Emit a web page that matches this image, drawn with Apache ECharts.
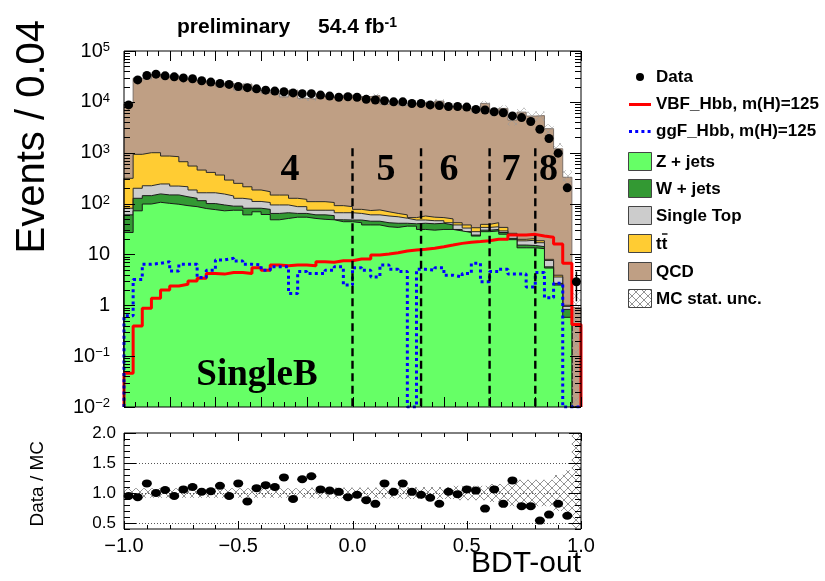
<!DOCTYPE html>
<html>
<head>
<meta charset="utf-8">
<title>BDT-out SingleB</title>
<script src="https://cdn.jsdelivr.net/npm/echarts@6/dist/echarts.min.js"></script>
<style>
  html, body { margin: 0; padding: 0; background: #ffffff; }
  #chart { width: 825px; height: 581px; }
</style>
</head>
<body>
<div id="chart"></div>
<script>
// ---- binning of the BDT output ----
const X_MIN = -1, X_MAX = 1, BIN_W = 0.04, N_BINS = 50;
const binEdges = Array.from({ length: N_BINS + 1 }, (_, i) => +(X_MIN + i * BIN_W).toFixed(2));
const binCenters = binEdges.slice(0, N_BINS).map(e => +(e + BIN_W / 2).toFixed(2));

// ---- observed events per bin ----
const dataCounts = [
  8700, 27000, 33000, 35000, 32500, 31000, 29600, 28500, 26000, 24500,
  23000, 22000, 20000, 19000, 18000, 17000, 16300, 15800, 15000, 14500,
  14500, 13600, 13000, 12300, 12600, 12300, 11200, 10900, 10500, 10000,
  10000, 9300, 9300, 8700, 8500, 8100, 8100, 7900, 7100, 6900,
  6400, 6100, 5300, 4900, 4100, 2900, 1900, 980, 204, 2.9
];

// ---- background predictions per bin ----
const zJets = [
  27, 72, 98, 106, 101, 97, 91, 87, 80, 76,
  72, 74, 74, 60, 69, 61, 48, 51, 54, 54,
  51, 49, 48, 44, 44, 42, 38, 38, 35, 34,
  36, 36, 31, 30, 31, 31, 29, 27, 23, 28,
  29, 25, 19.5, 13.5, 13.5, 13, 5.4, 2.5, 0.58, 0
];
const wJets = [
  33, 55, 45, 49, 47, 51, 45, 40, 34, 24,
  22, 15, 15, 21, 12, 16, 16, 15, 10, 10,
  9, 11, 10, 4, 3.5, 5.5, 7, 7, 7, 7,
  5, 4, 10, 10, 10, 7, 2, 1, 1, 2,
  2, 2, 1.2, 1.8, 1.5, 1.2, 0.3, 0.2, 0.25, 0
];
const singleTop = [
  21, 73, 81, 88, 95, 73, 78, 58, 49, 63,
  60, 52, 38, 40, 29, 28, 30, 28, 23, 23,
  14, 14, 16, 18, 18.5, 16.5, 15, 15, 15, 14,
  10.5, 7.5, 6.5, 6, 5, 4, 7, 5, 4, 4,
  4, 2, 3.3, 3.2, 4, 2.8, 1.9, 0.9, 0.12, 0
];
const ttbar = [
  233, 730, 776, 757, 617, 614, 451, 362, 293, 247,
  210, 149, 123, 93, 75, 66, 53, 53, 40, 34,
  35, 35, 31, 25, 21, 13, 13, 15, 12, 9,
  8.5, 5.5, 9.5, 8, 7, 8, 4, 5, 5.5, 5,
  7, 5, 2, 1.3, 1.5, 1.6, 0.4, 0.3, 0.05, 0
];
const qcd = [
  8840, 28100, 27450, 34000, 30090, 31800, 27260, 25360, 25030, 23380,
  20170, 22870, 16990, 21880, 16480, 14870, 14670, 12390, 16540, 11670,
  11220, 12720, 12400, 11970, 13460, 12600, 12650, 13220, 8980, 9740,
  8560, 9065, 9530, 9400, 10310, 7890, 8220, 7415, 6790, 9285,
  6000, 7405, 4355, 6260, 5235, 5350, 2960, 1191, 328, 0.9
];

// ---- signal templates, m(H)=125 ----
const vbfHbb = [
  0.046, 0.39, 0.87, 1.37, 2.0, 2.4, 2.6, 3.0, 3.4, 4.2,
  4.1, 4.4, 4.4, 4.2, 5.5, 4.9, 6.2, 6.0, 6.2, 6.2,
  6.0, 7.2, 7.0, 7.5, 7.5, 8.1, 8.1, 9.7, 10.2, 10.8,
  11.7, 12.2, 12.6, 13.2, 14.2, 15.3, 16.5, 17.3, 17.9, 18.6,
  19.8, 19.8, 24, 24, 24.8, 23, 21.7, 16, 6.7, 0.42
];
const ggfHbb = [
  0.62, 3.2, 6.4, 6.7, 7.2, 4.7, 6.4, 6.4, 3.5, 4.9,
  7.8, 8.4, 7.4, 6.4, 6.2, 4.9, 5.7, 5.7, 1.7, 4.6,
  4.2, 4.2, 4.9, 5.7, 2.5, 5.5, 4.9, 3.6, 6.2, 5.1,
  4.6, 0, 5.1, 4.9, 5.5, 3.9, 3.6, 4.2, 6.7, 2.9,
  4.6, 5.1, 4.1, 4.1, 2.3, 4.4, 1.4, 2.7, 0, 0
];

// ---- relative MC statistical uncertainty per bin ----
const mcStatUnc = [
  0.08, 0.08, 0.08, 0.08, 0.08, 0.08, 0.08, 0.08, 0.08, 0.08,
  0.08, 0.08, 0.08, 0.08, 0.08, 0.08, 0.08, 0.08, 0.08, 0.08,
  0.09, 0.09, 0.09, 0.09, 0.09, 0.09, 0.09, 0.09, 0.09, 0.09,
  0.10, 0.10, 0.10, 0.10, 0.10, 0.10, 0.12, 0.12, 0.12, 0.12,
  0.15, 0.15, 0.22, 0.22, 0.22, 0.22, 0.22, 0.30, 0.38, 1.0
];

// ---- category boundaries and their labels ----
const categoryEdges = [0.0, 0.3, 0.6, 0.8];
const categoryLabels = ['4', '5', '6', '7', '8'];

// ---- axis tick labels ----
const mainYLabels = [0.01, 0.1, 1, 10, 100, 1000, 10000, 100000];
const ratioYLabels = [0.5, 1.0, 1.5, 2.0];

// ---- ranges and layout ----
const Y_MIN = 0.01, Y_MAX = 1e5, R_MIN = 0.4, R_MAX = 2.0;
const CAT_LINE_TOP = 1230;                 // upper end of the category separators
const CAT_LABEL_X = [-0.274, 0.147, 0.422, 0.694, 0.858];
const CAT_LABEL_Y = 460;
const GRID_LEFT = 124, GRID_W = 457;

const C = {
  z: '#66ff66', w: '#339933', st: '#cccccc', tt: '#ffcc33', qcd: '#bf9f84',
  vbf: '#ff0000', ggf: '#0000ff'
};
const SANS = '"Liberation Sans", Arial, Helvetica, sans-serif';
const SERIF = '"Liberation Serif", "Times New Roman", serif';

// cross-hatch fills for the MC statistical uncertainty
function makeHatch(color, width) {
  const cv = document.createElement('canvas');
  cv.width = 8; cv.height = 8;
  const g = cv.getContext('2d');
  g.strokeStyle = color; g.lineWidth = width;
  g.beginPath();
  g.moveTo(0, 0); g.lineTo(8, 8);
  g.moveTo(8, 0); g.lineTo(0, 8);
  g.stroke();
  return { image: cv, repeat: 'repeat' };
}
const hatchFill = makeHatch('#777777', 0.8);
const hatchFillLight = makeHatch('#9a9a9a', 0.6);

// cumulative stack, bottom to top
const cumZ = zJets.map(v => v);
const cumW = cumZ.map((v, i) => v + wJets[i]);
const cumST = cumW.map((v, i) => v + singleTop[i]);
const cumTT = cumST.map((v, i) => v + ttbar[i]);
const mcTotal = cumTT.map((v, i) => v + qcd[i]);

// histogram outline as step points (left edges + closing edge)
function histPoints(vals) {
  const pts = [[X_MIN, Y_MIN]];
  vals.forEach((v, i) => pts.push([binEdges[i], Math.max(v, Y_MIN)]));
  pts.push([X_MAX, Math.max(vals[vals.length - 1], Y_MIN)]);
  pts.push([X_MAX, Y_MIN]);
  return pts;
}

function stackSeries(name, vals, fill, stroke, z) {
  return {
    name, type: 'line', xAxisIndex: 0, yAxisIndex: 0, step: 'end',
    data: histPoints(vals), symbol: 'none', showSymbol: false, z,
    lineStyle: { color: stroke, width: 1 },
    areaStyle: { color: fill, opacity: 1, origin: 'start' },
    silent: true
  };
}

function lineHist(name, vals, color, type, z) {
  return {
    name, type: 'line', xAxisIndex: 0, yAxisIndex: 0, step: 'end',
    data: histPoints(vals), symbol: 'none', showSymbol: false, z,
    lineStyle: { color, width: 3, type, cap: 'butt' }, silent: true
  };
}

// tick mark specs (inside the frame, on all four sides)
function logTicks() {
  const t = [];
  for (let d = -2; d <= 5; d++) {
    t.push({ axis: 'y', v: Math.pow(10, d), len: 11 });
    if (d < 5) for (let m = 2; m <= 9; m++) t.push({ axis: 'y', v: m * Math.pow(10, d), len: 6 });
  }
  for (let k = -20; k <= 20; k++) t.push({ axis: 'x', v: k * 0.05, len: k % 4 === 0 ? 10 : 5 });
  return t;
}
function ratioTicks() {
  const t = [];
  for (let k = 4; k <= 20; k++) t.push({ axis: 'y', v: k / 10, len: k % 5 === 0 ? 12 : 6 });
  for (let k = -10; k <= 10; k++) t.push({ axis: 'x', v: k / 10, len: k % 5 === 0 ? 8 : 4 });
  return t;
}
function tickSeries(idx, specs, yRef) {
  return {
    type: 'custom', xAxisIndex: idx, yAxisIndex: idx, z: 50, silent: true,
    data: specs.map(s => [s.axis === 'x' ? s.v : X_MIN, s.axis === 'y' ? s.v : yRef]),
    renderItem(params, api) {
      const s = specs[params.dataIndex];
      const cs = params.coordSys;
      const st = { stroke: '#000', lineWidth: 1 };
      if (s.axis === 'x') {
        const px = Math.round(api.coord([s.v, yRef])[0]) + 0.5;
        const yb = cs.y + cs.height, yt = cs.y;
        return { type: 'group', children: [
          { type: 'line', shape: { x1: px, y1: yb, x2: px, y2: yb - s.len }, style: st },
          { type: 'line', shape: { x1: px, y1: yt, x2: px, y2: yt + s.len }, style: st }
        ] };
      }
      const py = Math.round(api.coord([X_MIN, s.v])[1]) + 0.5;
      const xl = cs.x, xr = cs.x + cs.width;
      return { type: 'group', children: [
        { type: 'line', shape: { x1: xl, y1: py, x2: xl + s.len, y2: py }, style: st },
        { type: 'line', shape: { x1: xr, y1: py, x2: xr - s.len, y2: py }, style: st }
      ] };
    }
  };
}

function supText(v) {
  const e = Math.round(Math.log10(v));
  if (e === 0) return '1';
  if (e === 1) return '10';
  return '10{sup|' + (e < 0 ? '\u2212' + (-e) : e) + '}';
}
function signedFixed(v) {
  if (Math.abs(v) < 1e-9) return '0.0';
  return (v < 0 ? '\u2212' : '') + Math.abs(v).toFixed(1);
}

const chart = echarts.init(document.getElementById('chart'), null, { renderer: 'canvas', width: 825, height: 581 });

const LEG_FONT = 'bold 17px ' + SANS;

const option = {
  animation: false,
  backgroundColor: '#ffffff',
  grid: [
    { left: GRID_LEFT, top: 51, width: GRID_W, height: 356, show: true, borderColor: '#000', borderWidth: 1, backgroundColor: 'transparent', z: 60 },
    { left: GRID_LEFT, top: 433, width: GRID_W, height: 96, show: true, borderColor: '#000', borderWidth: 1, backgroundColor: 'transparent', z: 60 }
  ],
  xAxis: [
    { gridIndex: 0, type: 'value', min: X_MIN, max: X_MAX, interval: 0.5,
      axisLine: { show: false }, axisTick: { show: false }, axisLabel: { show: false }, splitLine: { show: false } },
    { gridIndex: 1, type: 'value', min: X_MIN, max: X_MAX, interval: 0.5,
      axisLine: { show: false }, axisTick: { show: false }, splitLine: { show: false },
      axisLabel: { show: true, margin: 7, color: '#000', fontFamily: SANS, fontSize: 20,
        showMinLabel: true, showMaxLabel: true, formatter: v => signedFixed(v) } }
  ],
  yAxis: [
    { gridIndex: 0, type: 'log', logBase: 10, min: Y_MIN, max: Y_MAX,
      axisLine: { show: false }, axisTick: { show: false }, splitLine: { show: false },
      axisLabel: { show: true, margin: 14, color: '#000', fontFamily: SANS, fontSize: 20,
        customValues: mainYLabels, formatter: v => supText(v),
        rich: { sup: { fontSize: 13, fontFamily: SANS, color: '#000', verticalAlign: 'top', lineHeight: 12, padding: [0, 0, 6, 0] } } } },
    { gridIndex: 1, type: 'value', min: R_MIN, max: R_MAX,
      axisLine: { show: false }, axisTick: { show: false }, splitLine: { show: false },
      axisLabel: { show: true, margin: 8, color: '#000', fontFamily: SANS, fontSize: 17,
        customValues: ratioYLabels, formatter: v => v.toFixed(1) } }
  ],
  series: [
    // stacked backgrounds, drawn from the total down so each fill sits on the one above
    stackSeries('QCD', mcTotal, C.qcd, '#7d7068', 2),
    stackSeries('tt', cumTT, C.tt, '#2a2a2a', 3),
    stackSeries('Single Top', cumST, C.st, '#2a2a2a', 4),
    stackSeries('W + jets', cumW, C.w, '#1a1a1a', 5),
    stackSeries('Z + jets', cumZ, C.z, '#1a1a1a', 6),
    // MC statistical uncertainty on the stack total
    {
      name: 'MC stat. unc.', type: 'custom', xAxisIndex: 0, yAxisIndex: 0, z: 7, silent: true,
      data: binCenters.map((c, i) => [c, Math.max(mcTotal[i], Y_MIN)]),
      renderItem(params, api) {
        const i = params.dataIndex;
        const tot = mcTotal[i];
        if (!(tot > 0)) return null;
        const u = mcStatUnc[i];
        const lo = Math.max(tot * (1 - u), Y_MIN), hi = Math.min(tot * (1 + u), Y_MAX);
        const p1 = api.coord([binEdges[i], hi]), p2 = api.coord([binEdges[i + 1], lo]);
        return { type: 'rect', shape: { x: p1[0], y: p1[1], width: p2[0] - p1[0], height: p2[1] - p1[1] },
          style: { fill: hatchFillLight, stroke: null } };
      }
    },
    lineHist('VBF_Hbb', vbfHbb, C.vbf, 'solid', 9),
    lineHist('ggF_Hbb', ggfHbb, C.ggf, [3, 3.2], 10),
    // category separators
    {
      type: 'custom', xAxisIndex: 0, yAxisIndex: 0, z: 11, silent: true,
      data: categoryEdges.map(x => [x, CAT_LINE_TOP]),
      renderItem(params, api) {
        const x = categoryEdges[params.dataIndex];
        const a = api.coord([x, CAT_LINE_TOP]), b = api.coord([x, Y_MIN]);
        return { type: 'line', shape: { x1: a[0], y1: a[1], x2: b[0], y2: b[1] },
          style: { stroke: '#000', lineWidth: 2.4, lineDash: [8, 4.5] } };
      }
    },
    // category numbers
    {
      type: 'custom', xAxisIndex: 0, yAxisIndex: 0, z: 12, silent: true,
      data: CAT_LABEL_X.map(x => [x, CAT_LABEL_Y]),
      renderItem(params, api) {
        const p = api.coord([CAT_LABEL_X[params.dataIndex], CAT_LABEL_Y]);
        return { type: 'text', x: p[0], y: p[1],
          style: { text: categoryLabels[params.dataIndex], fill: '#000', align: 'center', verticalAlign: 'middle',
            font: 'bold 38px ' + SERIF } };
      }
    },
    // data error bars (Poisson)
    {
      type: 'custom', xAxisIndex: 0, yAxisIndex: 0, z: 13, silent: true,
      data: binCenters.map((c, i) => [c, Math.max(dataCounts[i], Y_MIN)]),
      renderItem(params, api) {
        const i = params.dataIndex, n = dataCounts[i];
        if (!(n > 0)) return null;
        const e = Math.sqrt(n);
        const a = api.coord([binCenters[i], n + e]), b = api.coord([binCenters[i], Math.max(n - e, Y_MIN)]);
        return { type: 'line', shape: { x1: a[0], y1: a[1], x2: b[0], y2: b[1] }, style: { stroke: '#000', lineWidth: 1.5 } };
      }
    },
    {
      name: 'Data', type: 'scatter', xAxisIndex: 0, yAxisIndex: 0, z: 14, silent: true,
      symbol: 'circle', symbolSize: 9, itemStyle: { color: '#000', opacity: 1 },
      data: binCenters.map((c, i) => [c, dataCounts[i]]).filter(p => p[1] > 0)
    },
    tickSeries(0, logTicks(), Y_MIN),

    // ---- ratio panel ----
    {
      type: 'custom', xAxisIndex: 1, yAxisIndex: 1, z: 2, silent: true,
      data: [0.5, 1.0, 1.5].map(v => [X_MIN, v]),
      renderItem(params, api) {
        const v = [0.5, 1.0, 1.5][params.dataIndex];
        const a = api.coord([X_MIN, v]), b = api.coord([X_MAX, v]);
        return { type: 'line', shape: { x1: a[0], y1: Math.round(a[1]) + 0.5, x2: b[0], y2: Math.round(b[1]) + 0.5 },
          style: { stroke: '#555', lineWidth: 1, lineDash: [1, 2] } };
      }
    },
    {
      type: 'custom', xAxisIndex: 1, yAxisIndex: 1, z: 3, silent: true,
      data: binCenters.map(c => [c, 1]),
      renderItem(params, api) {
        const i = params.dataIndex;
        const u = mcStatUnc[i];
        const cs = params.coordSys;
        const p1 = api.coord([binEdges[i], Math.min(1 + u, R_MAX)]);
        const p2 = api.coord([binEdges[i + 1], Math.max(1 - u, R_MIN)]);
        const top = Math.max(p1[1], cs.y), bot = Math.min(p2[1], cs.y + cs.height);
        return { type: 'rect', shape: { x: p1[0], y: top, width: p2[0] - p1[0], height: bot - top },
          style: { fill: hatchFill, stroke: null } };
      }
    },
    {
      type: 'custom', xAxisIndex: 1, yAxisIndex: 1, z: 4, silent: true,
      data: binCenters.map((c, i) => [c, 1]),
      renderItem(params, api) {
        const i = params.dataIndex, n = dataCounts[i], tot = mcTotal[i];
        if (!(n > 0 && tot > 0)) return null;
        const r = n / tot, e = Math.sqrt(n) / tot;
        if (r > R_MAX || r < R_MIN) return null;
        const a = api.coord([binCenters[i], Math.min(r + e, R_MAX)]), b = api.coord([binCenters[i], Math.max(r - e, R_MIN)]);
        return { type: 'line', shape: { x1: a[0], y1: a[1], x2: b[0], y2: b[1] }, style: { stroke: '#000', lineWidth: 1.5 } };
      }
    },
    {
      name: 'Data / MC', type: 'scatter', xAxisIndex: 1, yAxisIndex: 1, z: 5, silent: true, clip: true,
      symbol: 'circle', symbolSize: [10, 8], itemStyle: { color: '#000', opacity: 1 },
      data: binCenters.map((c, i) => [c, dataCounts[i] / mcTotal[i]])
        .filter(p => isFinite(p[1]) && p[1] >= R_MIN && p[1] <= R_MAX)
    },
    tickSeries(1, ratioTicks(), 1)
  ],
  graphic: [
    // header
    { type: 'text', x: 177, y: 27, z: 100, style: { text: 'preliminary', font: 'bold 21px ' + SANS, fill: '#000', verticalAlign: 'middle' } },
    { type: 'text', x: 318, y: 27, z: 100, style: { text: '54.4 fb{sup|-1}', font: 'bold 21px ' + SANS, fill: '#000', verticalAlign: 'middle',
      rich: { sup: { font: 'bold 14px ' + SANS, fill: '#000', verticalAlign: 'top', lineHeight: 12, padding: [0, 0, 8, 0] } } } },
    // axis titles
    { type: 'text', x: 33, y: 20, rotation: Math.PI / 2, z: 100,
      style: { text: 'Events / 0.04', font: '40px ' + SANS, fill: '#000', align: 'right', verticalAlign: 'middle' } },
    { type: 'text', x: 38, y: 441, rotation: Math.PI / 2, z: 100,
      style: { text: 'Data / MC', font: '19px ' + SANS, fill: '#000', align: 'right', verticalAlign: 'middle' } },
    { type: 'text', x: 581, y: 564, z: 100,
      style: { text: 'BDT-out', font: '30px ' + SANS, fill: '#000', align: 'right', verticalAlign: 'middle' } },
    // analysis category
    { type: 'text', x: 257, y: 375, z: 100,
      style: { text: 'SingleB', font: 'bold 37px ' + SERIF, fill: '#000', align: 'center', verticalAlign: 'middle' } },

    // legend
    { type: 'circle', shape: { cx: 640, cy: 77, r: 4 }, style: { fill: '#000' }, z: 100 },
    { type: 'text', x: 656, y: 77, z: 100, style: { text: 'Data', font: LEG_FONT, fill: '#000', verticalAlign: 'middle' } },
    { type: 'line', shape: { x1: 629, y1: 104.5, x2: 651, y2: 104.5 }, style: { stroke: C.vbf, lineWidth: 3 }, z: 100 },
    { type: 'text', x: 656, y: 104.5, z: 100, style: { text: 'VBF_Hbb, m(H)=125', font: LEG_FONT, fill: '#000', verticalAlign: 'middle' } },
    { type: 'line', shape: { x1: 629, y1: 131.5, x2: 651, y2: 131.5 }, style: { stroke: C.ggf, lineWidth: 3, lineDash: [3, 3.2] }, z: 100 },
    { type: 'text', x: 656, y: 131.5, z: 100, style: { text: 'ggF_Hbb, m(H)=125', font: LEG_FONT, fill: '#000', verticalAlign: 'middle' } },

    { type: 'rect', shape: { x: 628.5, y: 152.5, width: 23, height: 18 }, style: { fill: C.z, stroke: '#444', lineWidth: 1 }, z: 100 },
    { type: 'text', x: 656, y: 162, z: 100, style: { text: 'Z + jets', font: LEG_FONT, fill: '#000', verticalAlign: 'middle' } },
    { type: 'rect', shape: { x: 628.5, y: 179.5, width: 23, height: 18 }, style: { fill: C.w, stroke: '#444', lineWidth: 1 }, z: 100 },
    { type: 'text', x: 656, y: 189, z: 100, style: { text: 'W + jets', font: LEG_FONT, fill: '#000', verticalAlign: 'middle' } },
    { type: 'rect', shape: { x: 628.5, y: 206.5, width: 23, height: 18 }, style: { fill: C.st, stroke: '#444', lineWidth: 1 }, z: 100 },
    { type: 'text', x: 656, y: 216, z: 100, style: { text: 'Single Top', font: LEG_FONT, fill: '#000', verticalAlign: 'middle' } },
    { type: 'rect', shape: { x: 628.5, y: 234.5, width: 23, height: 18 }, style: { fill: C.tt, stroke: '#444', lineWidth: 1 }, z: 100 },
    { type: 'text', x: 656, y: 244, z: 100, style: { text: 'tt', font: LEG_FONT, fill: '#000', verticalAlign: 'middle' } },
    { type: 'line', shape: { x1: 662, y1: 234, x2: 667.5, y2: 234 }, style: { stroke: '#000', lineWidth: 1.4 }, z: 100 },
    { type: 'rect', shape: { x: 628.5, y: 262.5, width: 23, height: 18 }, style: { fill: C.qcd, stroke: '#444', lineWidth: 1 }, z: 100 },
    { type: 'text', x: 656, y: 272, z: 100, style: { text: 'QCD', font: LEG_FONT, fill: '#000', verticalAlign: 'middle' } },
    { type: 'rect', shape: { x: 628.5, y: 289.5, width: 23, height: 18 }, style: { fill: hatchFill, stroke: '#444', lineWidth: 1 }, z: 100 },
    { type: 'text', x: 656, y: 299, z: 100, style: { text: 'MC stat. unc.', font: LEG_FONT, fill: '#000', verticalAlign: 'middle' } }
  ]
};

chart.setOption(option);
</script>
</body>
</html>
